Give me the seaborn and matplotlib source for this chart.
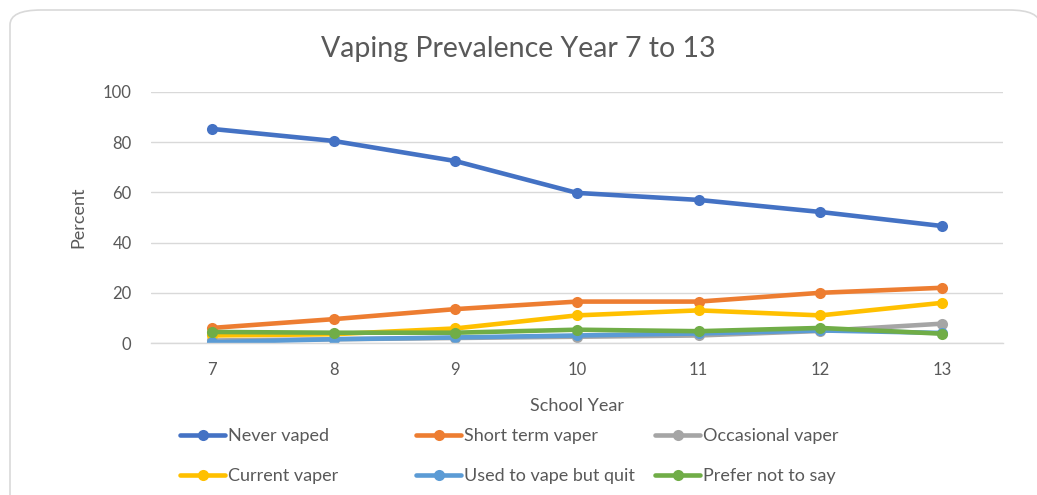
import matplotlib
matplotlib.use("Agg")
import matplotlib.pyplot as plt
import seaborn as sns
import pandas as pd
from matplotlib.patches import FancyBboxPatch

years = [7, 8, 9, 10, 11, 12, 13]
series_names = ["Never vaped", "Short term vaper", "Occasional vaper",
                "Current vaper", "Used to vape but quit", "Prefer not to say"]
never_vaped = [85.3, 80.5, 72.5, 59.8, 57.0, 52.2, 46.6]
short_term = [6.0, 9.5, 13.5, 16.5, 16.5, 20.0, 22.0]
occasional = [1.0, 1.5, 2.0, 2.5, 3.0, 4.8, 7.7]
current = [3.0, 3.5, 5.8, 11.0, 13.0, 11.0, 16.0]
used_quit = [0.3, 1.5, 2.2, 3.0, 3.8, 5.0, 4.0]
prefer_not = [4.4, 4.1, 4.1, 5.3, 4.7, 6.0, 3.7]
yticks = [0, 20, 40, 60, 80, 100]

colors = ["#4472C4", "#ED7D31", "#A5A5A5", "#FFC000", "#5B9BD5", "#70AD47"]

sns.set_style("white")
plt.rcParams['font.family'] = ['Lato', 'DejaVu Sans']

fig = plt.figure(figsize=(10.37, 4.95), dpi=100)
ax = fig.add_axes([151/1037, 1 - 343/495, (1003-151)/1037, (343-92)/495])

# card border
card = FancyBboxPatch((10/1037, -0.05), 1030/1037, (495-10)/495 + 0.05,
                      boxstyle="round,pad=0,rounding_size=0.03",
                      transform=fig.transFigure, facecolor="white",
                      edgecolor="#d9d9d9", linewidth=1.2, zorder=-10)
fig.patches.append(card)

all_vals = [never_vaped, short_term, occasional, current, used_quit, prefer_not]
for name, vals, c in zip(series_names, all_vals, colors):
    df = pd.DataFrame({"year": years, "value": vals})
    sns.lineplot(data=df, x="year", y="value", ax=ax, color=c, linewidth=3.3,
                 marker="o", markersize=8, markeredgewidth=0, label=name,
                 legend=False)
lines = ax.get_lines()

ax.set_xlim(6.5, 13.5)
ax.set_ylim(0, 100)
ax.set_yticks(yticks)
ax.set_xticks(years)
ax.set_xticklabels([str(y) for y in years])
ax.grid(axis="y", color="#d9d9d9", linewidth=1)
ax.grid(axis="x", visible=False)
for s in ["top", "right", "left"]:
    ax.spines[s].set_visible(False)
ax.spines["bottom"].set_color("#d9d9d9")
ax.spines["bottom"].set_linewidth(1)
ax.tick_params(axis="both", length=0, labelsize=12, colors="#595959")
ax.tick_params(axis="x", pad=14)
ax.tick_params(axis="y", pad=14)
ax.set_xlabel("School Year", fontsize=13, color="#595959", labelpad=14)
ax.set_ylabel("Percent", fontsize=13, color="#595959", labelpad=12)
ax.set_axisbelow(True)

fig.text(0.5, 1 - 49/495, "Vaping Prevalence Year 7 to 13", ha="center", va="center",
         fontsize=20.5, color="#595959")

# legend: three columns of two rows each
col_x = [180, 416, 655]
for ci in range(3):
    idx = [ci, ci + 3]
    fig.legend([lines[i] for i in idx], [series_names[i] for i in idx],
               loc="upper left", bbox_to_anchor=(col_x[ci]/1037, 1 - 428/495),
               frameon=False, fontsize=13, handlelength=2.5, handletextpad=0.15,
               labelspacing=1.35, borderaxespad=0, borderpad=0,
               labelcolor="#595959")

fig.savefig("out.png", dpi=100)
